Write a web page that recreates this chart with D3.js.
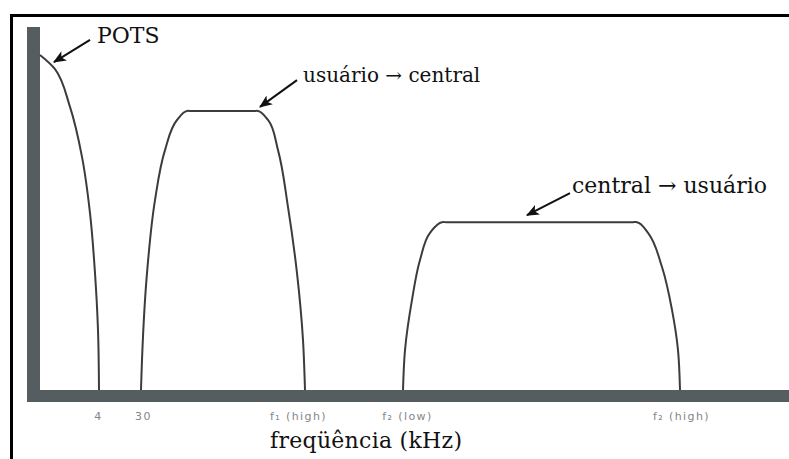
<!DOCTYPE html>
<html>
<head>
<meta charset="utf-8">
<script src="https://cdn.jsdelivr.net/npm/d3@7"></script>
<style>
  body { margin: 0; background: #fff; }
  svg { display: block; }
  .band { fill: none; stroke: #3c3c3c; stroke-width: 2px; }
  .note { font-family: "DejaVu Serif", serif; fill: #111; }
  .tick text { font-family: "DejaVu Sans", sans-serif; font-size: 11px; fill: #858585; letter-spacing: 1.4px; }
</style>
</head>
<body>
<div class="chart"></div>
<script>
const width = 789, height = 459;

// spectrum shapes: [frequency unit, relative level]
const pots = [[0, 100], [15, 95.8], [30, 84.5], [42, 69.6], [50, 52.8], [55, 34.9], [58, 17.9], [59, 0]];
const upstream = [[101, 0], [102, 9], [107, 34.9], [115, 56.7], [125, 71.6], [137, 80.6], [147, 83.3],
    [151, 83.3], [182, 83.3], [214, 83.3],
    [218, 83.3], [228, 80.6], [238, 71.6], [248, 54.6], [257, 34.9], [263, 14.9], [265, 0]];
const downstream = [[363, 0], [365, 11.9], [372, 26.9], [380, 38.8], [390, 46.9], [402, 50.1],
    [406, 50.1], [500, 50.1], [593, 50.1],
    [597, 50.1], [608, 46.9], [622, 36.7], [632, 23.9], [638, 11.9], [640, 0]];

// tick labels under the axis
const tickPos = [58, 103, 258, 367, 641];
const tickLabels = ["4", "30", "f\u2081 (high)", "f\u2082 (low)", "f\u2082 (high)"];

// annotations: label text, text anchor, arrow tail, arrow tip
const noteText = ["POTS", "usu\u00e1rio \u2192 central", "central \u2192 usu\u00e1rio"];
const noteAt = [[57, 103.6], [263, 91.9], [532, 58.8]];
const noteTail = [[50, 104.5], [257, 92.5], [530, 58.8]];
const noteTip = [[14, 97.9], [220, 84.5], [487, 52.2]];
const noteSize = [22, 20, 22];

const x = d3.scaleLinear().domain([0, 749]).range([40, 789]);
const y = d3.scaleLinear().domain([0, 100]).range([390, 55]);

const svg = d3.select(".chart").append("svg")
    .attr("width", width)
    .attr("height", height);

// outer frame (left and top edges visible)
svg.append("path")
    .attr("d", `M11.5,${height} V15.5 H${width}`)
    .attr("fill", "none")
    .attr("stroke", "#000")
    .attr("stroke-width", 3);

// thick gray axes
const axisColor = "#565d60";
svg.append("rect")
    .attr("x", x(0) - 13).attr("y", 27)
    .attr("width", 13).attr("height", y(0) + 12 - 27)
    .attr("fill", axisColor);
svg.append("rect")
    .attr("x", x(0) - 13).attr("y", y(0))
    .attr("width", width - x(0) + 13).attr("height", 12)
    .attr("fill", axisColor);

const line = d3.line()
    .x(d => x(d[0]))
    .y(d => y(d[1]))
    .curve(d3.curveCatmullRom.alpha(1));

svg.selectAll(".band")
    .data([pots, upstream, downstream])
    .enter()
    .append("path")
    .attr("class", "band")
    .attr("d", line);

// x axis labels
const xAxis = d3.axisBottom(x)
    .tickValues(tickPos)
    .tickFormat((d, i) => tickLabels[i])
    .tickSize(0)
    .tickPadding(0);
svg.append("g")
    .attr("transform", `translate(0, 412)`)
    .call(xAxis)
    .call(g => g.select(".domain").remove());

svg.append("text")
    .attr("class", "note")
    .attr("x", 270)
    .attr("y", 448)
    .style("font-size", "22px")
    .attr("textLength", 192)
    .text("freq\u00fc\u00eancia (kHz)");

// arrow head
svg.append("defs").append("marker")
    .attr("id", "head")
    .attr("viewBox", "0 0 12 10")
    .attr("refX", 11).attr("refY", 5)
    .attr("markerWidth", 13).attr("markerHeight", 11)
    .attr("markerUnits", "userSpaceOnUse")
    .attr("orient", "auto")
    .append("path")
    .attr("d", "M0,0 L12,5 L0,10 L3,5 Z")
    .attr("fill", "#111");

svg.selectAll(".arrow")
    .data(noteTail)
    .enter()
    .append("line")
    .attr("class", "arrow")
    .attr("x1", d => x(d[0])).attr("y1", d => y(d[1]))
    .attr("x2", (d, i) => x(noteTip[i][0])).attr("y2", (d, i) => y(noteTip[i][1]))
    .attr("stroke", "#111")
    .attr("stroke-width", 2)
    .attr("marker-end", "url(#head)");

svg.selectAll(".label")
    .data(noteText)
    .enter()
    .append("text")
    .attr("class", "note")
    .attr("x", (d, i) => x(noteAt[i][0]))
    .attr("y", (d, i) => y(noteAt[i][1]))
    .style("font-size", (d, i) => noteSize[i] + "px")
    .text(d => d);
</script>
</body>
</html>
